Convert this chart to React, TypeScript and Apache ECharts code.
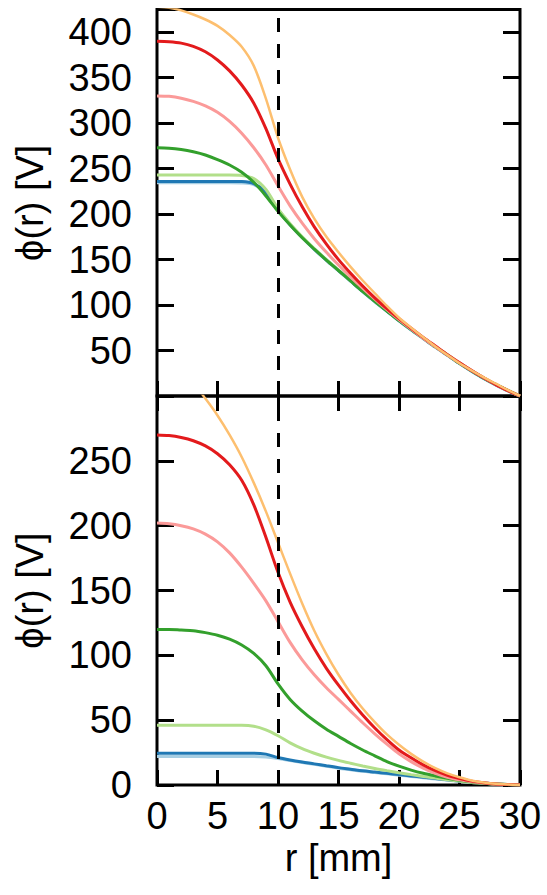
import React, { useEffect, useRef } from 'react';
import * as echarts from 'echarts';

// radius samples [mm]
const R = [0, 1, 2, 3, 4, 5, 6, 7, 8, 9, 10, 11, 12, 13, 14, 15, 16, 17, 18, 19, 20, 21, 22, 23, 24, 25, 26, 27, 28, 29, 30];

// top panel potentials [V]
const topOrange = [428, 427, 424, 419.5, 414, 407, 397, 384, 363, 327, 284, 249, 219, 195, 175, 158, 142, 127, 113, 99, 86, 75, 64.5, 54.5, 45, 36, 28, 20.5, 13.5, 6.5, 0];
const topRed = [390, 389.5, 388, 384.5, 378.5, 369.5, 357.5, 342, 322, 294, 261, 233, 208, 186, 167, 150, 135, 121, 108, 96, 85, 74.5, 64.5, 55, 45.5, 36.5, 28, 20, 12.5, 6, 0];
const topPink = [330, 329.5, 327.5, 324, 319, 312, 302, 289, 273, 254, 231, 209, 190, 173, 158, 144, 131, 118.5, 106.5, 95, 84, 73.5, 63.5, 54, 45, 36.5, 28, 20, 12.5, 6, 0];
const topGreen = [273, 272.5, 271, 268.5, 265, 260, 254, 246, 235, 220, 203, 188, 174, 161.5, 149.5, 138, 126.5, 115, 104, 93.5, 83, 73, 63.5, 54, 45, 36, 27.5, 19.5, 12.5, 6, 0];
const topLightGreen = [243, 243, 243, 243, 243, 243, 243, 242.5, 239, 227, 206, 189.5, 175, 162, 150, 138.5, 127, 115.5, 104.5, 94, 83.5, 73.5, 64, 54.5, 45.5, 36.5, 28, 20, 13, 6.5, 0];
const topBlue = [236, 236, 236, 236, 236, 236, 236, 235.8, 233.5, 224, 205, 188.5, 174.5, 161.5, 149.5, 138, 126.5, 115, 104, 93.5, 83, 73, 63.5, 54, 45, 36, 27.5, 19.5, 12.5, 6, 0];
const topLightBlue = [234.5, 234.5, 234.5, 234.5, 234.5, 234.5, 234.5, 234.3, 232.5, 223, 204.5, 188, 174, 161, 149, 137.5, 126, 114.5, 103.5, 93, 82.5, 72.5, 63, 53.5, 44.5, 35.5, 27, 19, 12, 5.5, 0];

// bottom panel potentials [V]
const botOrange = [325, 323, 318, 310, 298, 285, 270, 253, 233, 211, 187, 163, 140, 119, 101, 85, 71, 59, 48.5, 39, 31, 24, 18, 13, 9, 6, 3.5, 2, 1, 0.4, 0];
const botRed = [270, 269.5, 268, 265.5, 261.5, 255.5, 247, 235, 216, 191, 164, 141, 122, 105, 90, 77, 65, 54, 44, 35, 27, 21, 15.5, 11, 7.5, 5, 3, 1.7, 0.8, 0.3, 0];
const botPink = [202, 201.5, 200, 197.5, 193.5, 187.5, 179, 168, 155.5, 142, 126, 110, 96.5, 85, 75, 66, 57, 48, 39.5, 31.5, 24, 18, 13, 9, 6, 4, 2.5, 1.5, 0.7, 0.3, 0];
const botGreen = [120, 120, 119.5, 119, 117.5, 115.5, 112.5, 108, 101.5, 92, 78, 66, 57, 49.5, 43, 37.5, 32, 27, 22.5, 18, 14.5, 11.5, 9, 7, 5.2, 3.7, 2.4, 1.4, 0.7, 0.3, 0];
const botLightGreen = [46, 46, 46, 46, 46, 46, 46, 46, 45.3, 42.5, 38, 32.5, 28, 24.5, 21.5, 19, 16.8, 14.7, 12.8, 11.1, 9.5, 8, 6.6, 5.3, 4.1, 3, 2, 1.3, 0.7, 0.3, 0];
const botBlue = [24.5, 24.5, 24.5, 24.5, 24.5, 24.5, 24.5, 24.5, 24.5, 23.8, 21.2, 19.3, 17.7, 16.3, 14.8, 13.4, 12.2, 11, 10, 9, 8, 7, 6, 5, 4, 3.1, 2.3, 1.5, 0.8, 0.3, 0];
const botLightBlue = [22, 22, 22, 22, 22, 22, 22, 22, 22, 21.6, 20.4, 18.8, 17.3, 15.9, 14.4, 13, 11.8, 10.6, 9.6, 8.6, 7.6, 6.6, 5.6, 4.6, 3.7, 2.8, 2, 1.3, 0.7, 0.3, 0];

// tick labels
const X_TICK_LABELS = [0, 5, 10, 15, 20, 25, 30];
const TOP_Y_TICK_LABELS = [50, 100, 150, 200, 250, 300, 350, 400];
const BOT_Y_TICK_LABELS = [0, 50, 100, 150, 200, 250];

const BOUNDARY_R = 10;

const FONT = 'Liberation Sans';

const COLORS = {
  lightBlue: '#a6cee3',
  blue: '#1f78b4',
  lightGreen: '#b2df8a',
  green: '#33a02c',
  pink: '#fb9a99',
  red: '#e31a1c',
  orange: '#fdbf6f',
};

function toPairs(vals: number[]) {
  return R.map((r, i) => [r, vals[i]]);
}

export default function App() {
  const ref = useRef<HTMLDivElement>(null);

  useEffect(() => {
    document.body.style.margin = '0';
    if (!ref.current) return;
    const chart = echarts.init(ref.current, undefined, { renderer: 'svg' });

    const tickStyle = { color: '#000', width: 3 };
    const left = 157;
    const right = 547 - 520;
    const hiddenLine = { show: false, onZero: false };

    const mkLine = (
      name: string,
      vals: number[],
      color: string,
      width: number,
      xi: number,
      yi: number,
      withBoundary = false
    ): any => {
      const s: any = {
        name,
        type: 'line',
        xAxisIndex: xi,
        yAxisIndex: yi,
        data: toPairs(vals),
        showSymbol: false,
        smooth: 0.3,
        lineStyle: { color, width },
        itemStyle: { color },
        z: 3,
        silent: true,
      };
      if (withBoundary) {
        s.markLine = {
          silent: true,
          symbol: ['none', 'none'],
          label: { show: false },
          lineStyle: { color: '#000', width: 3, type: [14, 12] },
          data: [{ xAxis: BOUNDARY_R }],
          z: 10,
        };
      }
      return s;
    };

    const xLabelFmt = (v: number) => (X_TICK_LABELS.includes(v) ? String(v) : '');
    const topYFmt = (v: number) => (TOP_Y_TICK_LABELS.includes(v) ? String(v) : '');
    const botYFmt = (v: number) => (BOT_Y_TICK_LABELS.includes(v) ? String(v) : '');

    const labelStyle = { fontSize: 38, fontFamily: FONT, color: '#000' };

    const option: any = {
      animation: false,
      textStyle: { fontFamily: FONT, color: '#000' },
      grid: [
        { left, right, top: 9.5, height: 386.5, show: true, borderColor: '#000', borderWidth: 3, backgroundColor: 'transparent' },
        { left, right, top: 396, height: 389, show: true, borderColor: '#000', borderWidth: 3, backgroundColor: 'transparent' },
      ],
      xAxis: [
        {
          gridIndex: 0, type: 'value', min: 0, max: 30, interval: 5, position: 'bottom',
          axisLine: hiddenLine, splitLine: { show: false },
          axisTick: { show: true, inside: true, length: 15, lineStyle: tickStyle },
          axisLabel: { show: false },
        },
        {
          gridIndex: 1, type: 'value', min: 0, max: 30, interval: 5, position: 'bottom',
          axisLine: hiddenLine, splitLine: { show: false },
          axisTick: { show: true, inside: true, length: 15, lineStyle: tickStyle },
          axisLabel: { show: true, margin: 12, ...labelStyle, formatter: xLabelFmt },
          name: 'r [mm]', nameLocation: 'middle', nameGap: 54,
          nameTextStyle: labelStyle,
        },
        {
          gridIndex: 1, type: 'value', min: 0, max: 30, interval: 5, position: 'top',
          axisLine: hiddenLine, splitLine: { show: false },
          axisTick: { show: true, inside: true, length: 15, lineStyle: tickStyle },
          axisLabel: { show: false },
        },
      ],
      yAxis: [
        {
          gridIndex: 0, type: 'value', min: 0, max: 425, interval: 50, position: 'left',
          axisLine: hiddenLine, splitLine: { show: false },
          axisTick: { show: true, inside: true, length: 17, lineStyle: tickStyle },
          axisLabel: { show: true, margin: 25, ...labelStyle, formatter: topYFmt },
          name: 'ϕ(r) [V]', nameLocation: 'middle', nameGap: 108,
          nameTextStyle: labelStyle,
        },
        {
          gridIndex: 0, type: 'value', min: 0, max: 425, interval: 50, position: 'right',
          axisLine: hiddenLine, splitLine: { show: false },
          axisTick: { show: true, inside: true, length: 17, lineStyle: tickStyle },
          axisLabel: { show: false },
        },
        {
          gridIndex: 1, type: 'value', min: 0, max: 300, interval: 50, position: 'left',
          axisLine: hiddenLine, splitLine: { show: false },
          axisTick: { show: true, inside: true, length: 17, lineStyle: tickStyle },
          axisLabel: { show: true, margin: 25, ...labelStyle, formatter: botYFmt },
          name: 'ϕ(r) [V]', nameLocation: 'middle', nameGap: 108,
          nameTextStyle: labelStyle,
        },
        {
          gridIndex: 1, type: 'value', min: 0, max: 300, interval: 50, position: 'right',
          axisLine: hiddenLine, splitLine: { show: false },
          axisTick: { show: true, inside: true, length: 17, lineStyle: tickStyle },
          axisLabel: { show: false },
        },
      ],
      series: [
        mkLine('top light blue', topLightBlue, COLORS.lightBlue, 3, 0, 0, true),
        mkLine('top blue', topBlue, COLORS.blue, 3, 0, 0),
        mkLine('top light green', topLightGreen, COLORS.lightGreen, 3, 0, 0),
        mkLine('top green', topGreen, COLORS.green, 3, 0, 0),
        mkLine('top pink', topPink, COLORS.pink, 3, 0, 0),
        mkLine('top red', topRed, COLORS.red, 3, 0, 0),
        mkLine('top orange', topOrange, COLORS.orange, 2.5, 0, 0),

        mkLine('bottom light blue', botLightBlue, COLORS.lightBlue, 3, 1, 2, true),
        mkLine('bottom blue', botBlue, COLORS.blue, 3, 1, 2),
        mkLine('bottom light green', botLightGreen, COLORS.lightGreen, 3, 1, 2),
        mkLine('bottom green', botGreen, COLORS.green, 3, 1, 2),
        mkLine('bottom pink', botPink, COLORS.pink, 3, 1, 2),
        mkLine('bottom red', botRed, COLORS.red, 3, 1, 2),
        mkLine('bottom orange', botOrange, COLORS.orange, 2.5, 1, 2),
      ],
    };

    chart.setOption(option);
    return () => chart.dispose();
  }, []);

  return <div ref={ref} style={{ width: 547, height: 895 }} />;
}
